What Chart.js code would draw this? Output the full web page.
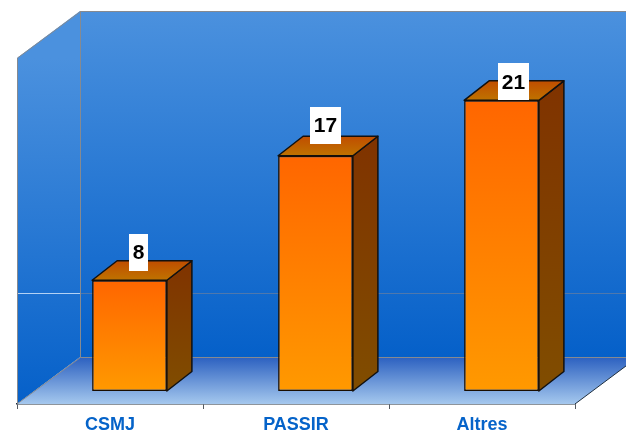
<!DOCTYPE html>
<html>
<head>
<meta charset="utf-8">
<style>html,body{margin:0;padding:0;background:#fff}canvas{display:block}</style>
<script src="https://cdn.jsdelivr.net/npm/chart.js@4"></script>
</head>
<body>
<canvas id="c" width="626" height="433"></canvas>
<script>
const categories = ['CSMJ', 'PASSIR', 'Altres'];
const values = [8, 17, 21];
const axisMin = 0;
const axisMax = 25;
const referenceLine = 8;

const wallDepth = { x: 63, y: -47 };
const barShift = { x: 19.5, y: -13 };
const barDepth = { x: 25, y: -19.5 };
const labelOffsets = [
  { x: 9, y: -28 },
  { x: 10, y: -30.5 },
  { x: 12, y: -18.5 }
];

function poly(ctx, pts, fill, stroke, width) {
  ctx.beginPath();
  pts.forEach((p, i) => i ? ctx.lineTo(p[0], p[1]) : ctx.moveTo(p[0], p[1]));
  ctx.closePath();
  if (fill) { ctx.fillStyle = fill; ctx.fill(); }
  if (stroke) { ctx.strokeStyle = stroke; ctx.lineWidth = width || 1; ctx.lineJoin = 'round'; ctx.stroke(); }
}
function vgrad(ctx, y0, y1, stops) {
  const g = ctx.createLinearGradient(0, y0, 0, y1);
  stops.forEach((s, i) => g.addColorStop(i / (stops.length - 1), s));
  return g;
}

const scene3d = {
  id: 'scene3d',
  beforeDatasetsDraw(chart) {
    const { ctx, chartArea: a } = chart;
    const yS = chart.scales.y;
    const dx = wallDepth.x, dy = wallDepth.y;
    const L = a.left, R = a.right, T = a.top, B = a.bottom;
    ctx.save();
    const wall = vgrad(ctx, T + dy, B + dy, ['#4b91de', '#0560c9']);
    poly(ctx, [[L + dx, T + dy], [R + dx, T + dy], [R + dx, B + dy], [L + dx, B + dy]], wall);
    const side = vgrad(ctx, T, B, ['#4b91de', '#0560c9']);
    poly(ctx, [[L, T], [L + dx, T + dy], [L + dx, B + dy], [L, B]], side);
    const floor = vgrad(ctx, B + dy, B, ['#2b60c0', '#a5c8ee']);
    poly(ctx, [[L, B], [L + dx, B + dy], [R + dx, B + dy], [R, B]], floor);
    const ry = Math.round(yS.getPixelForValue(referenceLine)) + 0.5;
    ctx.lineWidth = 1;
    ctx.strokeStyle = '#b4d2f4';
    ctx.beginPath(); ctx.moveTo(L, ry); ctx.lineTo(L + dx, ry); ctx.stroke();
    ctx.strokeStyle = '#4f78ad';
    ctx.beginPath(); ctx.moveTo(L + dx, ry); ctx.lineTo(R + dx, ry); ctx.stroke();
    ctx.strokeStyle = '#868a90';
    ctx.lineWidth = 1;
    ctx.beginPath();
    ctx.moveTo(L + 0.5, B); ctx.lineTo(L + 0.5, T);
    ctx.lineTo(L + dx + 0.5, T + dy + 0.5);
    ctx.lineTo(R + dx, T + dy + 0.5);
    ctx.moveTo(L + dx + 0.5, T + dy); ctx.lineTo(L + dx + 0.5, B + dy + 0.5);
    ctx.lineTo(R + dx, B + dy + 0.5);
    ctx.moveTo(L + dx + 0.5, B + dy + 0.5); ctx.lineTo(L, B);
    ctx.stroke();
    ctx.strokeStyle = '#20303f';
    ctx.beginPath(); ctx.moveTo(R, B); ctx.lineTo(R + dx, B + dy); ctx.stroke();
    ctx.restore();

    ctx.save();
    ctx.translate(barShift.x, barShift.y);
    chart.getDatasetMeta(0).data.forEach(bar => {
      const { x, y, base, width } = bar.getProps(['x', 'y', 'base', 'width'], true);
      const l = x - width / 2, r = x + width / 2;
      const ddx = barDepth.x, ddy = barDepth.y;
      const sideGrad = vgrad(ctx, y + ddy, base, ['#803300', '#804d00']);
      poly(ctx, [[r, y], [r + ddx, y + ddy], [r + ddx, base + ddy], [r, base]], sideGrad, '#111', 1.5);
      const topGrad = vgrad(ctx, y + ddy, y, ['#c04d00', '#bf7300']);
      poly(ctx, [[l, y], [l + ddx, y + ddy], [r + ddx, y + ddy], [r, y]], topGrad, '#111', 1.5);
    });
    ctx.restore();

    ctx.save();
    ctx.translate(barShift.x, barShift.y);
  },
  afterDatasetsDraw(chart) {
    const { ctx } = chart;
    ctx.restore();
    ctx.save();
    ctx.font = 'bold 21px "Liberation Sans", Arial, sans-serif';
    ctx.textAlign = 'center';
    ctx.textBaseline = 'middle';
    chart.getDatasetMeta(0).data.forEach((bar, i) => {
      const { x, y } = bar.getProps(['x', 'y'], true);
      const cx = x + barShift.x + labelOffsets[i].x;
      const cy = y + barShift.y + labelOffsets[i].y;
      const text = String(values[i]);
      const w = Math.round(ctx.measureText(text).width + 7.5);
      ctx.fillStyle = '#fff';
      ctx.fillRect(Math.round(cx - w / 2), Math.round(cy - 18.5), w, 37);
      ctx.fillStyle = '#000';
      ctx.fillText(text, cx, cy + 1);
    });
    ctx.restore();
  }
};

new Chart(document.getElementById('c'), {
  type: 'bar',
  plugins: [scene3d],
  data: {
    labels: categories,
    datasets: [{
      data: values,
      backgroundColor(c) {
        const chart = c.chart;
        const yS = chart.scales.y;
        if (!chart.chartArea || !yS || !c.parsed) return '#ff8000';
        const g = chart.ctx.createLinearGradient(0, yS.getPixelForValue(c.parsed.y), 0, yS.getPixelForValue(axisMin));
        g.addColorStop(0, '#ff6600');
        g.addColorStop(1, '#ff9900');
        return g;
      },
      borderColor: '#1a0d00',
      borderWidth: 1.5,
      borderSkipped: false,
      barPercentage: 0.402,
      categoryPercentage: 1
    }]
  },
  options: {
    responsive: false,
    animation: false,
    layout: { padding: { left: 17, right: 51, top: 58, bottom: 0 } },
    plugins: { legend: { display: false }, tooltip: { enabled: false } },
    scales: {
      x: {
        afterFit(s) { s.height = 29; },
        grid: {
          offset: true,
          drawOnChartArea: false,
          drawTicks: true,
          tickLength: 5,
          color: '#555a60'
        },
        border: { display: true, color: '#1f2a38', width: 1.5 },
        ticks: {
          color: '#0563c9',
          padding: 5,
          maxRotation: 0,
          font: { family: '"Liberation Sans", Arial, sans-serif', weight: 'bold', size: 18 }
        }
      },
      y: { display: false, min: axisMin, max: axisMax }
    }
  }
});
</script>
</body>
</html>
